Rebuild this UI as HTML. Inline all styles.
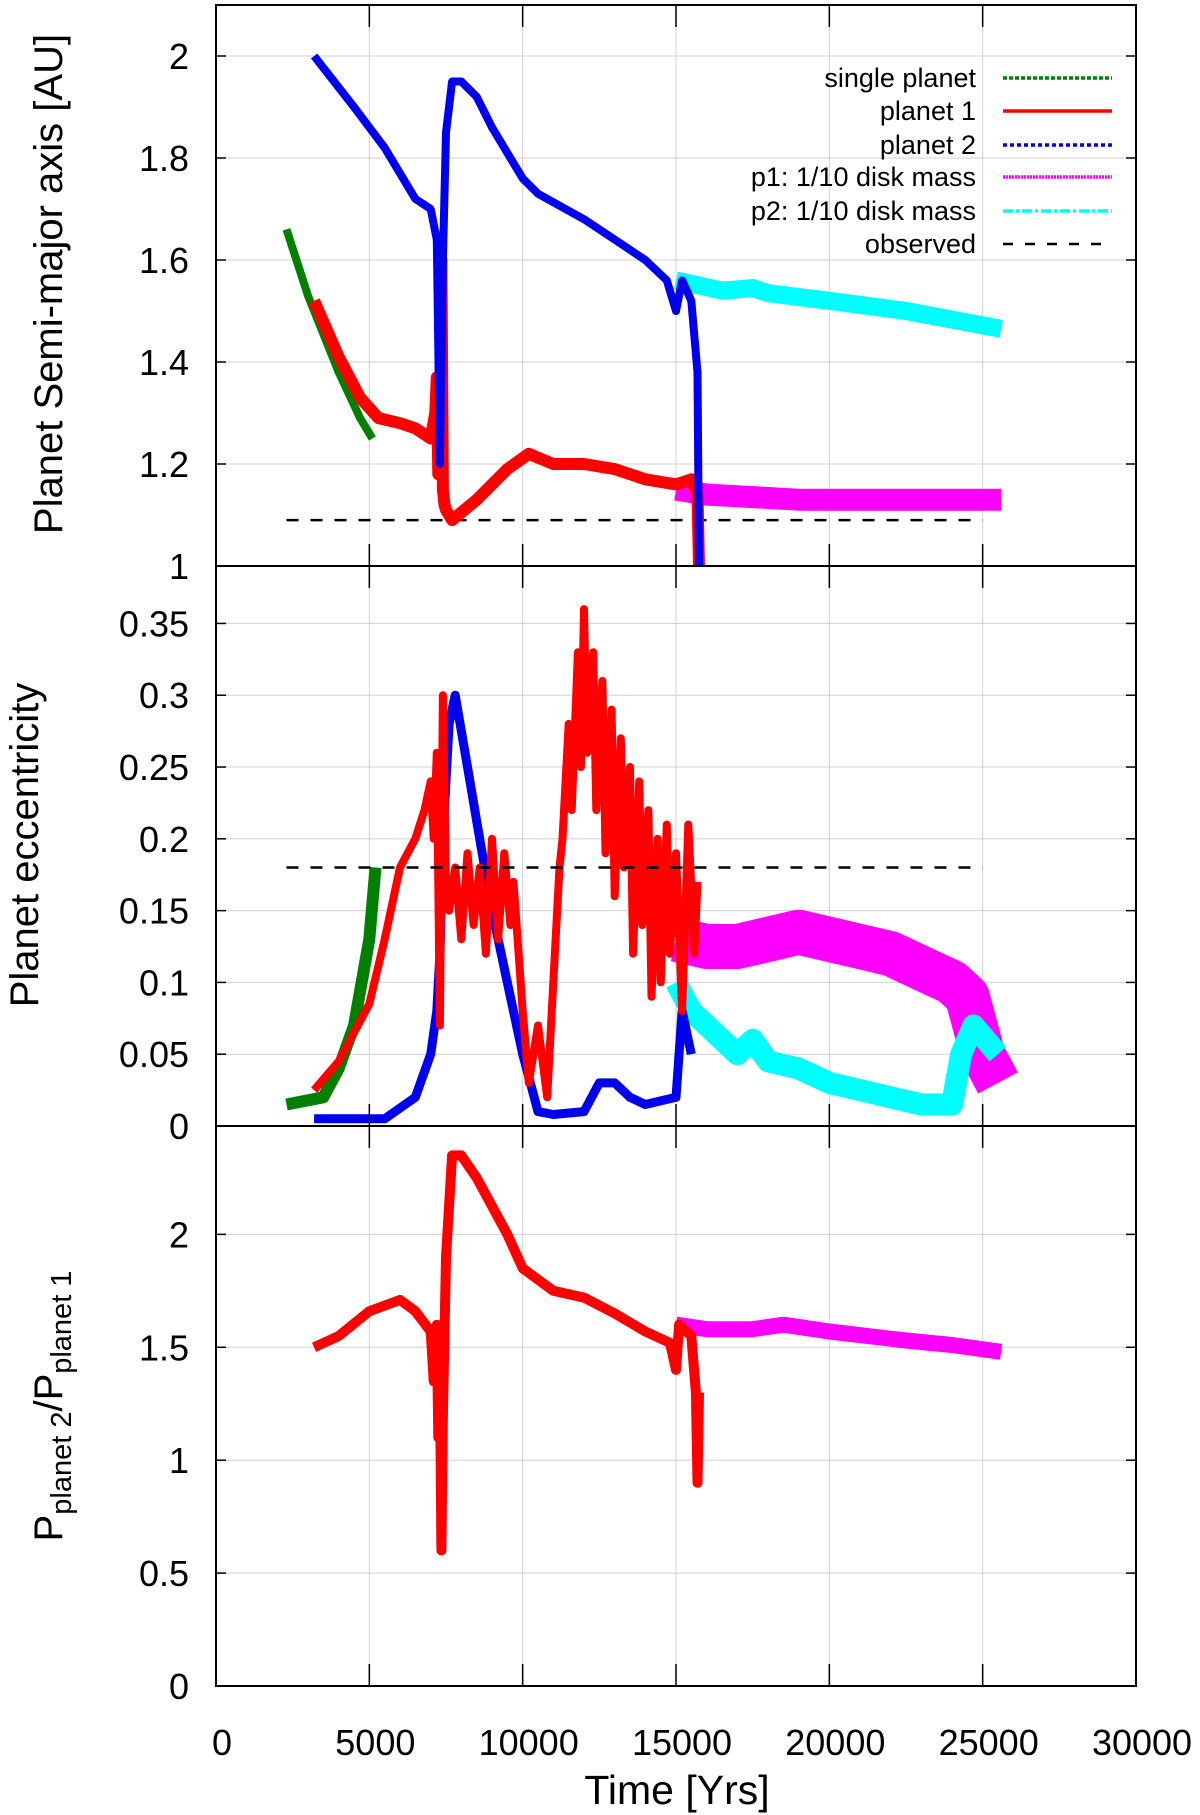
<!DOCTYPE html>
<html><head><meta charset="utf-8"><style>
body{margin:0;background:#fff;}
svg{display:block;font-family:"Liberation Sans",sans-serif;}
</style></head><body>
<svg id="chart" width="1200" height="1815" viewBox="0 0 1200 1815" xmlns="http://www.w3.org/2000/svg">
<g id="grid"></g>
<g id="series"></g>
<g id="axes"></g>
<g id="legend"></g>
<text transform="translate(62,284) rotate(-90)" text-anchor="middle" font-size="40">Planet Semi-major axis [AU]</text>
<text transform="translate(38,845) rotate(-90)" text-anchor="middle" font-size="40">Planet eccentricity</text>
<text transform="translate(62,1406) rotate(-90)" text-anchor="middle" font-size="40">P<tspan font-size="29" dy="9">planet 2</tspan><tspan dy="-9">/P</tspan><tspan font-size="29" dy="9">planet 1</tspan></text>
<text x="677" y="1804" text-anchor="middle" font-size="41">Time [Yrs]</text>
</svg>
<script>
// x axis
const xTicks = [0,5000,10000,15000,20000,25000,30000];
// panel 1: semi-major axis
const aTicks = [1,1.2,1.4,1.6,1.8,2];
const aSingleT = [2300,3000,4000,4700,5100];
const aSingleV = [1.66,1.53,1.38,1.29,1.25];
const aP1T = [3200,4000,4700,5300,6000,6500,7000,7150,7200,7250,7300,7350,7400,7450,7500,7700,8500,9500,10200,11000,12000,13000,14000,15000,15500,15700,15750];
const aP1V = [1.52,1.41,1.33,1.29,1.28,1.27,1.25,1.3,1.37,1.18,1.24,1.6,1.15,1.12,1.11,1.09,1.13,1.19,1.22,1.20,1.20,1.19,1.17,1.16,1.17,1.14,1.0];
const aP2T = [3200,4500,5500,6500,7000,7200,7300,7400,7500,7700,8000,8500,9000,10000,10500,12000,13000,14000,14700,15000,15200,15500,15700,15750];
const aP2V = [2.0,1.9,1.82,1.72,1.70,1.64,1.2,1.6,1.85,1.95,1.95,1.92,1.86,1.76,1.73,1.68,1.64,1.60,1.56,1.50,1.56,1.52,1.38,1.0];
const aM1T = [15000,16000,17500,19000,20000,22500,25600];
const aM1V = [1.15,1.14,1.135,1.13,1.13,1.13,1.13];
const aM2T = [15000,16500,17500,18000,20000,22500,25600];
const aM2V = [1.56,1.54,1.545,1.535,1.52,1.50,1.465];
const aObsT = [2300,25000];
const aObsV = [1.09,1.09];
// panel 2: eccentricity
const eTicks = [0,0.05,0.1,0.15,0.2,0.25,0.3,0.35];
const eSingleT = [2300,3500,4000,4500,5000,5200];
const eSingleV = [0.015,0.02,0.04,0.07,0.13,0.18];
const eP1T = [3200,4000,5000,5500,6000,6500,6800,7000,7100,7200,7300,7400,7500,7600,7800,8000,8200,8400,8600,8800,9000,9200,9400,9600,9700,10000,10200,10500,10800,11000,11200,11300,11500,11600,11800,11900,12000,12100,12300,12400,12600,12700,12900,13000,13200,13300,13500,13600,13800,13900,14100,14200,14400,14500,14700,14800,15000,15200,15400,15600,15700];
const eP1V = [0.025,0.045,0.085,0.13,0.18,0.2,0.22,0.24,0.2,0.26,0.07,0.3,0.17,0.15,0.18,0.13,0.19,0.14,0.18,0.12,0.2,0.13,0.19,0.14,0.17,0.08,0.03,0.07,0.02,0.1,0.18,0.2,0.28,0.22,0.33,0.25,0.36,0.26,0.33,0.22,0.31,0.19,0.29,0.16,0.27,0.18,0.25,0.12,0.24,0.14,0.22,0.09,0.2,0.1,0.21,0.12,0.19,0.08,0.21,0.12,0.17];
const eP2T = [3200,5500,6500,7000,7200,7300,7400,7600,7800,8200,8600,9000,9500,10000,10500,11000,12000,12500,13000,13500,14000,15000,15200,15500];
const eP2V = [0.005,0.005,0.02,0.05,0.08,0.12,0.2,0.28,0.3,0.25,0.2,0.15,0.1,0.05,0.01,0.008,0.01,0.03,0.03,0.02,0.015,0.02,0.08,0.05];
const eM1T = [15000,16000,17000,18000,19000,20000,21000,22000,23000,24000,24500,25000,25500];
const eM1V = [0.13,0.125,0.125,0.13,0.135,0.13,0.125,0.12,0.11,0.1,0.09,0.05,0.03];
const eM2T = [15000,15500,16000,17000,17500,18000,19000,20000,21000,22000,23000,24000,24300,24700,25500];
const eM2V = [0.10,0.08,0.07,0.05,0.06,0.045,0.04,0.03,0.025,0.02,0.015,0.015,0.05,0.07,0.05];
const eObsT = [2300,25000];
const eObsV = [0.18,0.18];
// panel 3: period ratio
const pTicks = [0,0.5,1,1.5,2];
const pP1T = [3200,4000,5000,6000,6500,7000,7100,7200,7250,7300,7350,7400,7500,7700,8000,8500,9500,10000,11000,12000,13000,14000,14800,15000,15100,15500,15650,15700,15750];
const pP1V = [1.5,1.55,1.66,1.71,1.66,1.57,1.35,1.6,1.1,1.4,0.6,1.2,1.9,2.35,2.35,2.25,2.0,1.85,1.75,1.72,1.65,1.57,1.52,1.4,1.6,1.55,1.3,0.9,1.3];
const pM1T = [15000,16000,17500,18500,20000,22500,24000,25600];
const pM1V = [1.6,1.58,1.58,1.6,1.57,1.53,1.51,1.48];

const NS='http://www.w3.org/2000/svg';
const X0=216, X1=1136;
const xs = t => X0 + t/30000*(X1-X0);
const panels = {
  a:{top:5,bot:566,min:1,max:2.1},
  e:{top:566,bot:1126,min:0,max:0.39},
  p:{top:1126,bot:1686,min:0,max:2.48}
};
function ys(p,v){const P=panels[p];return P.bot-(v-P.min)/(P.max-P.min)*(P.bot-P.top);}
function mk(tag,attrs,parent){const e=document.createElementNS(NS,tag);for(const k in attrs)e.setAttribute(k,attrs[k]);parent.appendChild(e);return e;}
const grid=document.getElementById('grid'), axes=document.getElementById('axes'), ser=document.getElementById('series'), leg=document.getElementById('legend');

function drawPanel(p,ticks){
  const P=panels[p];
  xTicks.forEach(t=>{
    const x=xs(t);
    if(t>0&&t<30000){const g=mk('line',{x1:x,x2:x,y1:P.top,y2:P.bot,stroke:'#d0d0d0','stroke-width':1},grid);
    
    }
    const a=mk('line',{x1:x,x2:x,y1:P.bot,y2:P.bot-22,stroke:'#000','stroke-width':1.5},axes);
    
    
    const b=mk('line',{x1:x,x2:x,y1:P.top,y2:P.top+22,stroke:'#000','stroke-width':1.5},axes);
    
    
  });
  ticks.forEach(v=>{
    const y=ys(p,v);
    if(v>P.min){const g=mk('line',{x1:X0,x2:X1,y1:y,y2:y,stroke:'#d0d0d0','stroke-width':1},grid);
    
    }
    const a=mk('line',{x1:X0,x2:X0+10,y1:y,y2:y,stroke:'#000','stroke-width':1.5},axes);
    
    
    const b=mk('line',{x1:X1-10,x2:X1,y1:y,y2:y,stroke:'#000','stroke-width':1.5},axes);
    
    
    const tx=mk('text',{x:X0-27,y:y+13,'text-anchor':'end','font-size':36},axes);
    tx.textContent=String(v);
    
    
  });
  const r=mk('rect',{x:X0,y:P.top,width:X1-X0,height:P.bot-P.top,fill:'none',stroke:'#000','stroke-width':2},axes);
  
  
}
drawPanel('a',aTicks);
drawPanel('e',eTicks);
drawPanel('p',pTicks);
xTicks.forEach(t=>{
  const tx=mk('text',{x:xs(t)+6,y:1755,'text-anchor':'middle','font-size':36},axes);
  tx.textContent=String(t);
  
  
});

function line(p,T,V,color,w,dash,name){
  const pts=T.map((t,i)=>xs(t).toFixed(1)+','+ys(p,V[i]).toFixed(1)).join(' ');
  const a={points:pts,fill:'none',stroke:color,'stroke-width':w,'stroke-linejoin':'round','stroke-linecap':'butt'};
  if(dash)a['stroke-dasharray']=dash;
  const e=mk('polyline',a,ser);
  
  
}
const GREEN='#007f00',RED='#ff0000',BLUE='#0000ee',MAG='#ff00ff',CYAN='#00ffff';
// panel a
line('a',aObsT,aObsV,'#000',2.5,'12,12','observed-line-a');
line('a',aSingleT,aSingleV,GREEN,8,null,'single-planet-a');
line('a',aM1T,aM1V,MAG,22,null,'p1-tenth-disk-a');
line('a',aM2T,aM2V,CYAN,18,null,'p2-tenth-disk-a');
line('a',aP1T,aP1V,RED,12,null,'planet1-a');
line('a',aP2T,aP2V,BLUE,8,null,'planet2-a');
// panel e
line('e',eM1T,eM1V,MAG,45,null,'p1-tenth-disk-e');
line('e',eM2T,eM2V,CYAN,22,null,'p2-tenth-disk-e');
line('e',eSingleT,eSingleV,GREEN,12,null,'single-planet-e');
line('e',eP2T,eP2V,BLUE,9,null,'planet2-e');
line('e',eP1T,eP1V,RED,8,null,'planet1-e');
line('e',eObsT,eObsV,'#000',2.5,'12,12','observed-line-e');
// panel p
line('p',pM1T,pM1V,MAG,16,null,'p1-tenth-disk-ratio');
line('p',pP1T,pP1V,RED,10,null,'planet1-ratio');

// legend
const legNames=['single planet','planet 1','planet 2','p1: 1/10 disk mass','p2: 1/10 disk mass','observed'];
const legColors=[GREEN,RED,BLUE,MAG,CYAN,'#000'];
const legDash=['4,2',null,'4,3','2,1','10,3,3,3','10,12'];
const legY=[78,111,145,177,211,244];
legNames.forEach((n,i)=>{
  const tx=mk('text',{x:976,y:legY[i]+9,'text-anchor':'end','font-size':27},leg);
  tx.textContent=n;
  
  
  const a={x1:1003,x2:1112,y1:legY[i],y2:legY[i],stroke:legColors[i],'stroke-width':i==5?2.5:3.5};
  if(legDash[i])a['stroke-dasharray']=legDash[i];
  const l=mk('line',a,leg);
  
  
});
</script>
</body></html>
